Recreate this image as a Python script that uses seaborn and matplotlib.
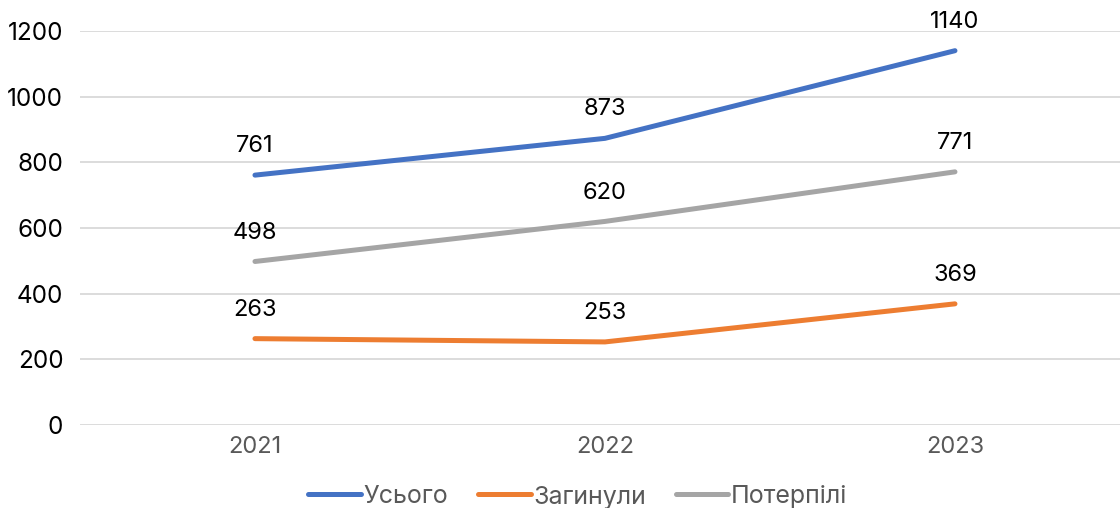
import matplotlib
matplotlib.use("Agg")
import matplotlib.pyplot as plt
import seaborn as sns
import pandas as pd
from matplotlib.lines import Line2D

years = ["2021", "2022", "2023"]
total = [761, 873, 1140]
killed = [263, 253, 369]
injured = [498, 620, 771]
series_names = ["Усього", "Загинули", "Потерпілі"]
colors = ["#4472C4", "#ED7D31", "#A5A5A5"]

sns.set_theme(style="white")
plt.rcParams["font.family"] = ["Inter", "DejaVu Sans"]

rows = []
for name, vals in zip(series_names, [total, killed, injured]):
    for i, (y, v) in enumerate(zip(years, vals)):
        rows.append({"year": y, "x": i, "value": v, "series": name})
df = pd.DataFrame(rows)

fig = plt.figure(figsize=(11.2, 5.08), dpi=100)
ax = fig.add_axes([0.0714, 0.1634, 0.9375, 0.7756])

sns.lineplot(data=df, x="x", y="value", hue="series", hue_order=series_names,
             palette=colors, linewidth=3.6, ax=ax, legend=False,
             solid_capstyle="round")

for name, vals in zip(series_names, [total, killed, injured]):
    for i, v in enumerate(vals):
        ax.annotate(str(v), (i, v), xytext=(0, 16.5), textcoords="offset points",
                    ha="center", va="baseline", fontsize=17, color="#000000")

ax.set_xlim(-0.5, 2.5)
ax.set_ylim(0, 1200)
ax.set_yticks(range(0, 1201, 200))
ax.set_xticks(range(len(years)))
ax.set_xticklabels(years)
ax.yaxis.grid(True, color="#D9D9D9", linewidth=1.3)
ax.xaxis.grid(False)
for s in ax.spines.values():
    s.set_visible(False)
ax.tick_params(axis="y", labelsize=17.5, labelcolor="#000000", length=0, pad=12)
ax.tick_params(axis="x", labelsize=17, labelcolor="#595959", length=0, pad=8)
ax.set_xlabel("")
ax.set_ylabel("")

handles = [Line2D([0], [0], color=c, linewidth=3.6, solid_capstyle="round") for c in colors]
fig.legend(handles, series_names, loc="center", bbox_to_anchor=(0.516, 0.022),
           ncol=3, frameon=False, fontsize=18, labelcolor="#595959",
           handlelength=2.1, handletextpad=0.1, columnspacing=1.2)

fig.savefig("out.png", dpi=100)
